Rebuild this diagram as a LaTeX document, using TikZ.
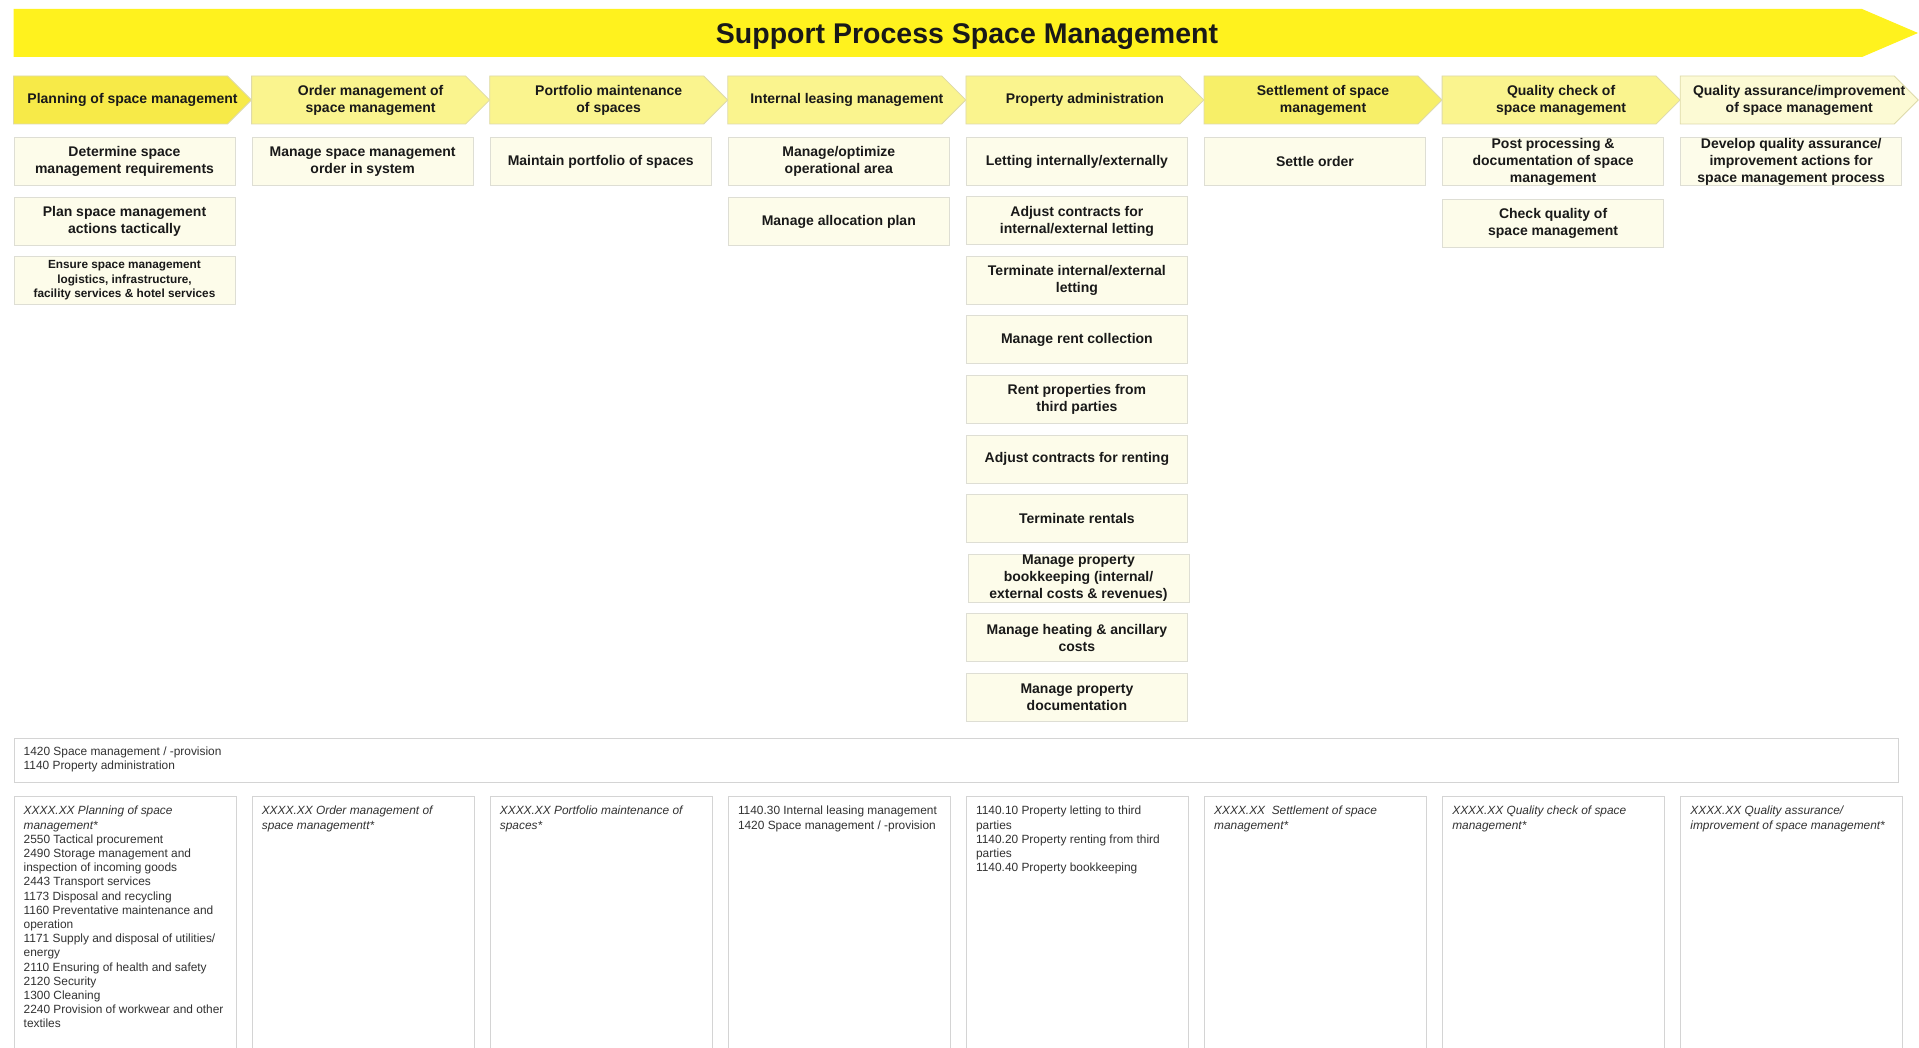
\documentclass[tikz,border=0pt]{standalone}
\usepackage{fontspec}
\setmainfont{Liberation Sans}
\definecolor{bannerY}{RGB}{255,242,30}
\definecolor{chevStrong}{RGB}{247,234,72}
\definecolor{chevSettle}{RGB}{247,239,104}
\definecolor{chevMid}{RGB}{250,244,142}
\definecolor{chevLight}{RGB}{252,250,212}
\definecolor{chevDraw}{RGB}{222,218,170}
\definecolor{actFill}{RGB}{253,252,234}
\definecolor{actDraw}{RGB}{222,222,212}
\definecolor{boxDraw}{RGB}{212,212,212}
\definecolor{txtDark}{RGB}{25,25,25}
\definecolor{listTxt}{RGB}{50,50,50}
\tikzset{
  chevtext/.style={font=\bfseries\fontsize{14}{17}\selectfont, align=center, text=txtDark, inner sep=0pt},
  actbox/.style={draw=actDraw, line width=1pt, fill=actFill, minimum width=221pt, minimum height=48pt,
    inner sep=0pt, align=center, anchor=north west, font=\bfseries\fontsize{14}{17}\selectfont, text=txtDark},
  smallact/.style={font=\bfseries\fontsize{11.8}{14.6}\selectfont},
  listbox/.style={draw=boxDraw, line width=1.2pt, fill=white, minimum width=222pt, minimum height=280pt,
    anchor=north west, inner sep=0pt},
  listtext/.style={anchor=north west, align=left, inner sep=0pt, font=\fontsize{11.9}{14.2}\selectfont, text=listTxt},
}
\newcommand{\mychev}[4]{%
  \path[fill=#2, draw=chevDraw, line width=0.8pt] (#1,76) -- ++(214,0) -- ++(24,24) -- ++(-24,24) -- ++(-214,0) -- cycle;
  \node[chevtext] (#3) at ({#1+119},100) {#4};
}
\begin{document}
\begin{tikzpicture}[x=1pt,y=-1pt]
\useasboundingbox (0,0) rectangle (1919,1048);
\clip (0,0) rectangle (1919,1048);
\fill[white] (0,0) rectangle (1919,1048);

% banner
\fill[bannerY] (13.5,9) -- (1862,9) -- (1918,33) -- (1862,57) -- (13.5,57) -- cycle;
\node[font=\bfseries\fontsize{28.5}{34}\selectfont, text=txtDark, inner sep=0pt] (title) at (967,36.5) {Support Process Space Management};

% chevrons
\mychev{13.5}{chevStrong}{c1}{Planning of space management}
\mychev{251.6}{chevMid}{c2}{Order management of\\space management}
\mychev{489.7}{chevMid}{c3}{Portfolio maintenance\\of spaces}
\mychev{727.8}{chevMid}{c4}{Internal leasing management}
\mychev{965.9}{chevMid}{c5}{Property administration}
\mychev{1204}{chevSettle}{c6}{Settlement of space\\management}
\mychev{1442.1}{chevMid}{c7}{Quality check of\\space management}
\mychev{1680.2}{chevLight}{c8}{Quality assurance/improvement\\of space management}

% column 1
\node[actbox] (a11) at (13.5,137) {Determine space\\management requirements};
\node[actbox] (a12) at (13.5,197) {Plan space management\\actions tactically};
\node[actbox, smallact] (a13) at (13.5,256) {Ensure space management\\logistics, infrastructure,\\facility services \& hotel services};
% column 2
\node[actbox] (a21) at (251.6,137) {Manage space management\\order in system};
% column 3
\node[actbox] (a31) at (489.7,137) {Maintain portfolio of spaces};
% column 4
\node[actbox] (a41) at (727.8,137) {Manage/optimize\\operational area};
\node[actbox] (a42) at (727.8,197) {Manage allocation plan};
% column 5
\node[actbox] (a51) at (965.9,137) {Letting internally/externally};
\node[actbox] (a52) at (965.9,196.5) {Adjust contracts for\\internal/external letting};
\node[actbox] (a53) at (965.9,256) {Terminate internal/external\\letting};
\node[actbox] (a54) at (965.9,315.5) {Manage rent collection};
\node[actbox] (a55) at (965.9,375) {Rent properties from\\third parties};
\node[actbox] (a56) at (965.9,434.5) {Adjust contracts for renting};
\node[actbox] (a57) at (965.9,494) {Terminate rentals};
\node[actbox] (a58) at (967.5,553.5) {Manage property\\bookkeeping (internal/\\external costs \& revenues)};
\node[actbox] (a59) at (965.9,613) {Manage heating \& ancillary\\costs};
\node[actbox] (a510) at (965.9,672.5) {Manage property\\documentation};
% column 6
\node[actbox] (a61) at (1204,137) {Settle order};
% column 7
\node[actbox] (a71) at (1442.1,137) {Post processing \&\\documentation of space\\management};
\node[actbox] (a72) at (1442.1,199) {Check quality of\\space management};
% column 8
\node[actbox] (a81) at (1680.2,137) {Develop quality assurance/\\improvement actions for\\space management process};

% wide box
\node[draw=boxDraw, line width=1.2pt, fill=white, minimum width=1884pt, minimum height=44pt, anchor=north west, inner sep=0pt] (wide) at (13.5,737.5) {};
\node[listtext] (widetxt) at ([shift={(10pt,-9pt)}]wide.north west) {1420 Space management / -provision\\1140 Property administration};

% list boxes
\node[listbox] (b1) at (13.5,796) {};
\node[listbox] (b2) at (251.6,796) {};
\node[listbox] (b3) at (489.7,796) {};
\node[listbox] (b4) at (727.8,796) {};
\node[listbox] (b5) at (965.9,796) {};
\node[listbox] (b6) at (1204,796) {};
\node[listbox] (b7) at (1442.1,796) {};
\node[listbox] (b8) at (1680.2,796) {};

\node[listtext] (t1) at ([shift={(10pt,-10pt)}]b1.north west) {\textit{XXXX.XX Planning of space}\\\textit{management*}\\2550 Tactical procurement\\2490 Storage management and\\inspection of incoming goods\\2443 Transport services\\1173 Disposal and recycling\\1160 Preventative maintenance and\\operation\\1171 Supply and disposal of utilities/\\energy\\2110 Ensuring of health and safety\\2120 Security\\1300 Cleaning\\2240 Provision of workwear and other\\textiles};
\node[listtext] (t2) at ([shift={(10pt,-10pt)}]b2.north west) {\textit{XXXX.XX Order management of}\\\textit{space managementt*}};
\node[listtext] (t3) at ([shift={(10pt,-10pt)}]b3.north west) {\textit{XXXX.XX Portfolio maintenance of}\\\textit{spaces*}};
\node[listtext] (t4) at ([shift={(10pt,-10pt)}]b4.north west) {1140.30 Internal leasing management\\1420 Space management / -provision};
\node[listtext] (t5) at ([shift={(10pt,-10pt)}]b5.north west) {1140.10 Property letting to third\\parties\\1140.20 Property renting from third\\parties\\1140.40 Property bookkeeping};
\node[listtext] (t6) at ([shift={(10pt,-10pt)}]b6.north west) {\textit{XXXX.XX\ \ Settlement of space}\\\textit{management*}};
\node[listtext] (t7) at ([shift={(10pt,-10pt)}]b7.north west) {\textit{XXXX.XX Quality check of space}\\\textit{management*}};
\node[listtext] (t8) at ([shift={(10pt,-10pt)}]b8.north west) {\textit{XXXX.XX Quality assurance/}\\\textit{improvement of space management*}};
\end{tikzpicture}
\end{document}
